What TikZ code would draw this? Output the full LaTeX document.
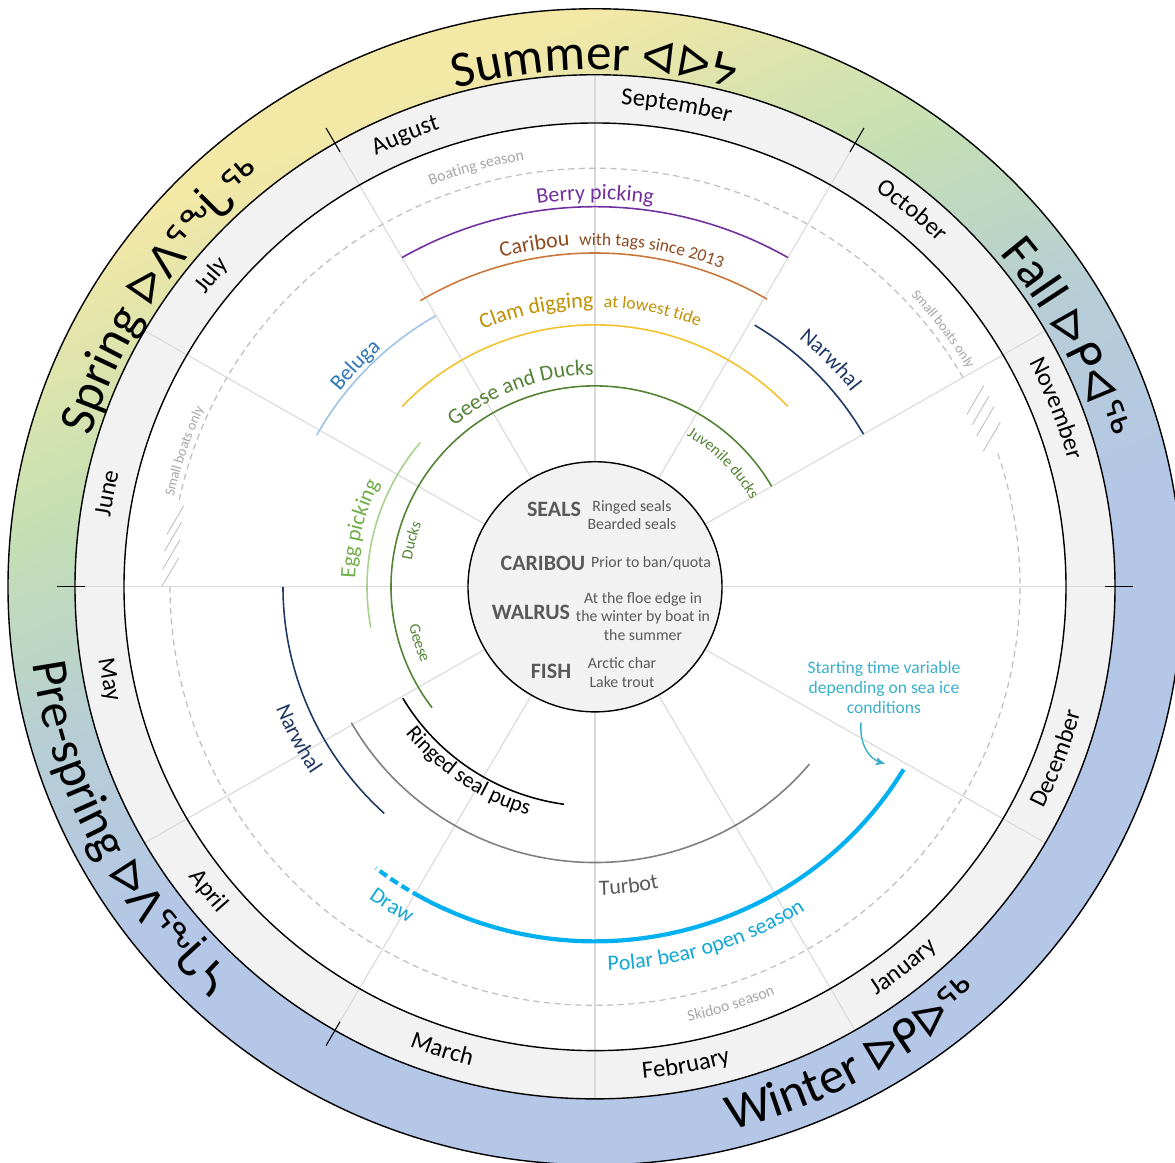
\documentclass[tikz,border=0pt]{standalone}
\usepackage{fontspec}
\setmainfont{Carlito}
\newfontfamily\sylfont{DejaVu Sans}
\usepackage{tikz}
\usetikzlibrary{arrows,shapes,positioning,decorations.text,calc}

\definecolor{monthgrey}{HTML}{F2F2F2}
\definecolor{gridgrey}{HTML}{D9D9D9}
\definecolor{dashgrey}{HTML}{BFBFBF}
\definecolor{dashtext}{HTML}{A6A6A6}
\definecolor{centregrey}{HTML}{595959}
\definecolor{seasonyellow}{HTML}{F4E8A6}
\definecolor{seasongreen}{HTML}{C4DFB4}
\definecolor{seasonteal}{HTML}{B6CDD6}
\definecolor{seasonblue}{HTML}{B4C7E7}
\definecolor{berry}{HTML}{7030A0}
\definecolor{caribarc}{HTML}{C9773A}
\definecolor{caribtext}{HTML}{8C4A1E}
\definecolor{clamarc}{HTML}{F2C12E}
\definecolor{clamtext}{HTML}{BF9000}
\definecolor{geese}{HTML}{548235}
\definecolor{eggarc}{HTML}{A9D18E}
\definecolor{eggtext}{HTML}{70AD47}
\definecolor{belugaarc}{HTML}{9DC3E6}
\definecolor{belugatext}{HTML}{2E75B6}
\definecolor{narwhal}{HTML}{203864}
\definecolor{turbot}{HTML}{7F7F7F}
\definecolor{polar}{HTML}{00B0F0}
\definecolor{polartext}{HTML}{12A7D4}
\definecolor{annotcol}{HTML}{3AAFC9}

\pgfdeclareverticalshading{seasonshade}{100bp}{color(0bp)=(seasonblue); color(44bp)=(seasonblue); color(53bp)=(seasonteal); color(62bp)=(seasongreen); color(73bp)=(seasonyellow); color(100bp)=(seasonyellow)}

\newcommand{\seasonfont}{\fontsize{29}{32}\selectfont}
\newcommand{\sylsize}{\sylfont\fontsize{25}{30}\selectfont}
\newcommand{\monthfont}{\fontsize{14}{16}\selectfont}
\newcommand{\labfont}{\fontsize{12.5}{14}\selectfont}
\newcommand{\subfont}{\fontsize{10}{12}\selectfont}
\newcommand{\tinyfont}{\fontsize{9}{10}\selectfont}
\newcommand{\smallfont}{\fontsize{8}{9}\selectfont}

% text on a clockwise arc, letters face outward
\newcommand{\tophalftext}[4]{%
  \pgfmathsetmacro{\arcfrom}{#1+#3}%
  \pgfmathsetmacro{\arcto}{#1-#3}%
  \path[decorate,decoration={text along path,text align=center,text={#4}}]
    (\arcfrom:#2) arc[start angle=\arcfrom,end angle=\arcto,radius=#2];%
}
% text on a counter-clockwise arc, letters face inward
\newcommand{\bothalftext}[4]{%
  \pgfmathsetmacro{\arcfrom}{#1-#3}%
  \pgfmathsetmacro{\arcto}{#1+#3}%
  \path[decorate,decoration={text along path,text align=center,text={#4}}]
    (\arcfrom:#2) arc[start angle=\arcfrom,end angle=\arcto,radius=#2];%
}

\begin{document}
\begin{tikzpicture}[x=0.02cm,y=0.0197cm,>=stealth',semithick]
\tikzset{
	ring/.style={black,line width=0.8pt},
	gridline/.style={gridgrey,line width=0.6pt},
	seasontick/.style={black,line width=0.6pt},
	seasonline/.style={dashgrey,line width=0.7pt,dash pattern=on 3.5pt off 2.5pt},
	hatch/.style={dashgrey,line width=0.5pt},
	activity/.style={line width=0.9pt},
	polarline/.style={polar,line width=2.4pt},
	keyword/.style={font=\fontsize{12.5}{14}\selectfont\bfseries,text=centregrey},
	detail/.style={font=\fontsize{9}{10.5}\selectfont,text=centregrey,align=center},
	annot/.style={font=\fontsize{10}{11.5}\selectfont,text=annotcol,align=center}
}
\useasboundingbox (-595,-584.8) rectangle (580,595.9);
\clip (-595,-584.8) rectangle (580,595.9);

%season ring
\shade[shading=seasonshade,shading angle=24,even odd rule]
	(0,0) circle[radius=587] (0,0) circle[radius=520];
%month ring
\fill[monthgrey,even odd rule] (0,0) circle[radius=520] (0,0) circle[radius=471];

\foreach \a in {0,30,...,330}
	\draw[gridline] (\a:127) -- (\a:520);
\foreach \a in {0,60,120,180,240}
	\draw[seasontick] (\a:510) -- (\a:538);

\draw[ring] (0,0) circle[radius=587];
\draw[ring] (0,0) circle[radius=520];
\draw[ring] (0,0) circle[radius=471];

%--------------------------- seasons ------------
\tophalftext{90}{525}{40}{|\seasonfont|Summer |\sylsize|ᐊᐅᔭ}
\tophalftext{146}{527}{40}{|\seasonfont|Spring |\sylsize|ᐅᐱᕐᖔᖅ}
\tophalftext{28}{527}{40}{|\seasonfont|Fall |\sylsize|ᐅᑭᐊᖅ}
\bothalftext{298.5}{568}{40}{|\seasonfont|Winter |\sylsize|ᐅᑭᐅᖅ}
\bothalftext{207.5}{568}{40}{|\seasonfont|Pre-spring |\sylsize|ᐅᐱᕐᖔᓴ}

%--------------------------- months ------------
\tophalftext{169}{490}{14}{|\monthfont|June}
\tophalftext{140.5}{490}{14}{|\monthfont|July}
\tophalftext{112.5}{490}{14}{|\monthfont|August}
\tophalftext{80.5}{490}{14}{|\monthfont|September}
\tophalftext{50.3}{490}{14}{|\monthfont|October}
\tophalftext{21.4}{490}{14}{|\monthfont|November}
\bothalftext{339.3}{502}{14}{|\monthfont|December}
\bothalftext{308.6}{502}{14}{|\monthfont|January}
\bothalftext{280.6}{502}{14}{|\monthfont|February}
\bothalftext{252}{502}{14}{|\monthfont|March}
\bothalftext{218.6}{502}{14}{|\monthfont|April}
\bothalftext{191}{502}{14}{|\monthfont|May}

%boating / skidoo
\draw[seasonline] (30:425) arc[start angle=30,end angle=168,radius=425];
\draw[seasonline] (180:425) arc[start angle=180,end angle=379,radius=425];
\foreach \a in {170.8,173.1,175.6,178}
	\draw[hatch] ($(\a:425)+(60:-17)$) -- ($(\a:425)+(60:17)$);
\foreach \a in {26.5,24.9,23.3,21}
	\draw[hatch] ($(\a:425)+(60:-17)$) -- ($(\a:425)+(60:17)$);
\tophalftext{105.6}{439}{14}{|\tinyfont\color{dashtext}|Boating season}
\bothalftext{287.8}{451}{14}{|\tinyfont\color{dashtext}|Skidoo season}
\tophalftext{161.5}{431}{14}{|\smallfont\color{dashtext}|Small boats only}
\tophalftext{36.9}{433}{14}{|\smallfont\color{dashtext}|Small boats only}

%--------------------------- activities ------------
\draw[activity,berry] (120:386) arc[start angle=120,end angle=60,radius=386];
\tophalftext{90}{393}{25}{|\labfont\color{berry}|Berry picking}

\draw[activity,caribarc] (121:339) arc[start angle=121,end angle=59.5,radius=339];
\tophalftext{99.9}{347}{12}{|\labfont\color{caribtext}|Caribou}
\tophalftext{80.6}{347}{20}{|\subfont\color{caribtext}|with tags since 2013}

\draw[activity,clamarc] (136.5:266) arc[start angle=136.5,end angle=43.5,radius=266];
\tophalftext{101.8}{284}{14}{|\labfont\color{clamtext}|Clam digging}
\tophalftext{78.4}{284}{16}{|\subfont\color{clamtext}|at lowest tide}

\draw[activity,belugaarc] (120:318) arc[start angle=120,end angle=151,radius=318];
\tophalftext{136.8}{323}{12}{|\labfont\color{belugatext}|Beluga}

\draw[activity,narwhal] (59:310) arc[start angle=59,end angle=30,radius=310];
\tophalftext{44.3}{324}{14}{|\labfont\color{narwhal}|Narwhal}
\draw[activity,narwhal] (180:312) arc[start angle=180,end angle=227.5,radius=312];
\bothalftext{207.5}{342}{14}{|\labfont\color{narwhal}|Narwhal}

\draw[activity,geese] (30:204) arc[start angle=30,end angle=217,radius=204];
\tophalftext{110.6}{215}{30}{|\labfont\color{geese}|Geese and Ducks}
\tophalftext{44.3}{179}{22}{|\tinyfont\color{geese}|Juvenile ducks}
\tophalftext{165.7}{185}{12}{|\tinyfont\color{geese}|Ducks}
\bothalftext{198}{190}{12}{|\tinyfont\color{geese}|Geese}

\draw[activity,eggarc] (140:228) arc[start angle=140,end angle=190.5,radius=228];
\tophalftext{166}{240}{18}{|\labfont\color{eggtext}|Egg picking}

\draw[activity,black] (210.5:223) arc[start angle=210.5,end angle=262,radius=223];
\bothalftext{236}{241}{25}{|\labfont|Ringed seal pups}

\draw[activity,turbot] (209.5:280) arc[start angle=209.5,end angle=320,radius=280];
\bothalftext{276.3}{313}{10}{|\labfont\color{centregrey}|Turbot}

\draw[polarline] (241:360) arc[start angle=241,end angle=329,radius=360];
\draw[polarline,dash pattern=on 5pt off 2.5pt] (241:360) arc[start angle=241,end angle=232.5,radius=360];
\bothalftext{287.3}{390}{22}{|\labfont\color{polartext}|Polar bear open season}
\bothalftext{237.9}{389}{8}{|\labfont\color{polartext}|Draw}

%entry of the polar bear season
\node[annot] (note) at (289,-102.5) {Starting time variable\\depending on sea ice\\conditions};
\coordinate (pbstart) at (328.2:340.7);
\draw[->,annotcol,line width=0.8pt] ($(note.south)+(-23,-2)$) to[out=-95,in=165] (pbstart);

%--------------------------- centre ------------
\draw[ring,fill=monthgrey] (0,0) circle[radius=127];
\node[keyword] (seals) at (-41,79) {SEALS};
\node[detail] (sealsnote) at (37,73) {Ringed seals\\Bearded seals};
\node[keyword] (caribou) at (-52,24) {CARIBOU};
\node[detail] (caribounote) at (56,24) {Prior to ban/quota};
\node[keyword] (walrus) at (-64,-26) {WALRUS};
\node[detail] (walrusnote) at (48,-30) {At the floe edge in\\the winter by boat in\\the summer};
\node[keyword] (fish) at (-44,-86) {FISH};
\node[detail] (fishnote) at (27,-87) {Arctic char\\Lake trout};

\end{tikzpicture}
\end{document}
